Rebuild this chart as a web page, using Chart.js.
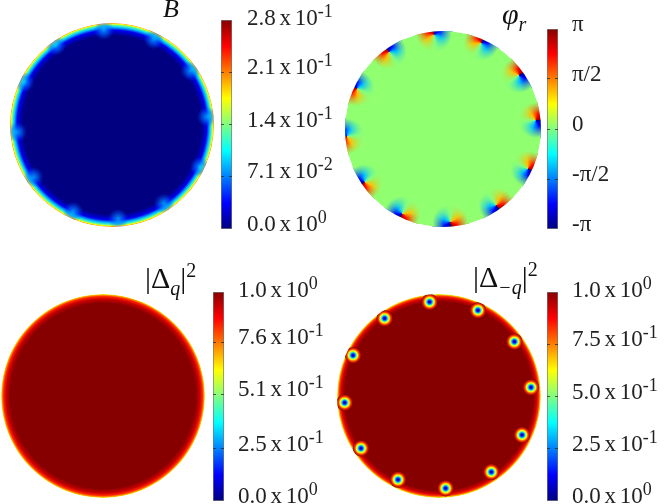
<!DOCTYPE html>
<html>
<head>
<meta charset="utf-8">
<script src="https://cdn.jsdelivr.net/npm/chart.js@4"></script>
<style>
  html, body { margin: 0; background: #fff; }
  #page { position: relative; width: 664px; height: 504px; overflow: hidden; }
  canvas { position: absolute; }
  .title { position: absolute; z-index: 2; font: italic 30px "Liberation Serif"; color: #111; white-space: nowrap; line-height: 30px; }
  .title span { font-style: normal; }
  .title sub { font-size: 20px; line-height: 0; }
  .title sup { font-size: 20px; font-style: normal; line-height: 0; }
</style>
</head>
<body>
<div id="page">
  <div class="title" style="left:163px;top:-6px;font-size:26px">B</div>
  <div class="title" style="left:502px;top:-1px">φ<sub>r</sub></div>
  <div class="title" style="left:145px;top:263px"><span>|Δ</span><sub>q</sub><span>|</span><sup>2</sup></div>
  <div class="title" style="left:473px;top:262px"><span>|Δ</span><sub>−q</sub><span>|</span><sup>2</sup></div>
</div>
<script>
// tick labels, "^" marks the exponent
const bTicks = ["0.0 x 10^0", "7.1 x 10^-2", "1.4 x 10^-1", "2.1 x 10^-1", "2.8 x 10^-1"];
const bTickValues = [0, 0.071, 0.14, 0.21, 0.28];
const phiTicks = ["-π", "-π/2", "0", "π/2", "π"];
const phiTickValues = [-3.14159, -1.5708, 0, 1.5708, 3.14159];
const dqTicks = ["0.0 x 10^0", "2.5 x 10^-1", "5.1 x 10^-1", "7.6 x 10^-1", "1.0 x 10^0"];
const dqTickValues = [0, 0.25, 0.51, 0.76, 1];
const dmqTicks = ["0.0 x 10^0", "2.5 x 10^-1", "5.0 x 10^-1", "7.5 x 10^-1", "1.0 x 10^0"];
const dmqTickValues = [0, 0.25, 0.5, 0.75, 1];

// vortex positions in units of the disk radius
const bSpotX = [-0.08, 0.41, 0.77, 0.93, 0.86, 0.51, 0.06, -0.38, -0.77, -0.93, -0.86, -0.55];
const bSpotY = [0.93, 0.84, 0.53, 0.08, -0.41, -0.77, -0.92, -0.85, -0.51, -0.07, 0.42, 0.78];
const phiSpotX = [-0.092, 0.391, 0.776, 0.945, 0.867, 0.544, 0.075, -0.415, -0.799, -0.980, -0.878, -0.551];
const phiSpotY = [0.963, 0.878, 0.548, 0.089, -0.405, -0.779, -0.949, -0.864, -0.541, -0.075, 0.412, 0.786];
const dmqSpotX = [-0.092, 0.382, 0.739, 0.902, 0.814, 0.513, 0.065, -0.402, -0.765, -0.925, -0.843, -0.533];
const dmqSpotY = [0.922, 0.840, 0.533, 0.085, -0.382, -0.745, -0.905, -0.820, -0.513, -0.065, 0.399, 0.761];

// radial profiles read along the disk: radius and field value
const bRimR = [0, 0.875, 0.93, 0.96, 0.98, 0.99, 1];
const bRimV = [0, 0, 0.03, 0.09, 0.135, 0.175, 0.215];
const bSpotR = [0, 0.05, 0.1];
const dqRimR = [0, 0.91, 0.95, 0.975, 0.99, 1];
const dqRimV = [1, 1, 0.93, 0.84, 0.72, 0.6];
const dmqRimR = [0, 0.925, 0.96, 0.98, 0.99, 1];
const dmqRimV = [1, 1, 0.92, 0.82, 0.7, 0.58];
const dmqCoreR = [0, 0.012, 0.025, 0.035, 0.045, 0.06, 0.08];
const dmqCoreV = [0.03, 0.1, 0.3, 0.5, 0.63, 0.82, 1];

// phase around a vortex, clockwise from the rim side
const phiWind = [-3.14, -2.4, -1.18, 0, 1.18, 2.4, 3.14];
const phiFadeR = [0, 0.07, 0.2];
const phiFlat = 0.1;

const jetStops = [[0, 0, 0, 128], [0.125, 0, 0, 255], [0.375, 0, 255, 255], [0.5, 128, 255, 128], [0.625, 255, 255, 0], [0.875, 255, 0, 0], [1, 135, 0, 0]];

function jet(t, alpha = 1) {
    t = Math.min(1, Math.max(0, t));
    for (let i = 1; i < jetStops.length; i++) {
        const a = jetStops[i - 1], b = jetStops[i];
        if (t <= b[0]) {
            const f = (t - a[0]) / (b[0] - a[0]);
            return `rgba(${[1, 2, 3].map(k => Math.round(a[k] + (b[k] - a[k]) * f)).join(",")},${alpha})`;
        }
    }
    return `rgba(135,0,0,${alpha})`;
}

function points(xs, ys) {
    return xs.map((x, i) => ({ x, y: ys[i] }));
}

function radiusOf(ctx, r) {
    const s = ctx.chart.scales.x;
    const px = Math.abs(s.getPixelForValue(r) - s.getPixelForValue(0));
    return Number.isFinite(px) ? px : 0;
}

// pixel place of a point, null while the scales are not ready
function placeOf(ctx) {
    if (!ctx.raw || typeof ctx.raw.x !== "number") return null;
    const cx = ctx.chart.scales.x.getPixelForValue(ctx.raw.x);
    const cy = ctx.chart.scales.y.getPixelForValue(ctx.raw.y);
    return Number.isFinite(cx) && Number.isFinite(cy) ? { cx, cy } : null;
}

// a point filled with a radial gradient following a profile
function profileSet(pts, radii, values, min, max) {
    const reach = radii[radii.length - 1];
    return {
        data: pts,
        pointRadius: ctx => radiusOf(ctx, reach),
        pointBorderWidth: 0,
        backgroundColor: ctx => {
            const at = placeOf(ctx);
            if (!at) return "transparent";
            const g = ctx.chart.ctx.createRadialGradient(at.cx, at.cy, 0, at.cx, at.cy, radiusOf(ctx, reach));
            radii.forEach((r, i) => g.addColorStop(r / reach, jet((values[i] - min) / (max - min))));
            return g;
        }
    };
}

// soft light patch over the rim
function softSet(pts, radii) {
    const reach = radii[radii.length - 1];
    return {
        data: pts,
        pointRadius: ctx => radiusOf(ctx, reach),
        pointBorderWidth: 0,
        backgroundColor: ctx => {
            const at = placeOf(ctx);
            if (!at) return "transparent";
            const g = ctx.chart.ctx.createRadialGradient(at.cx, at.cy, 0, at.cx, at.cy, radiusOf(ctx, reach));
            g.addColorStop(0, "rgba(0,210,255,0.7)");
            g.addColorStop(radii[1] / reach, "rgba(0,110,255,0.55)");
            g.addColorStop(1, "rgba(0,60,255,0)");
            return g;
        }
    };
}

// the phase winds from -pi to pi around each vortex, the cut points at the rim
function windingSet(pts) {
    const reach = phiFadeR[phiFadeR.length - 1];
    return {
        data: pts,
        pointRadius: ctx => radiusOf(ctx, reach) * 0.96,
        pointBorderWidth: 0,
        backgroundColor: ctx => {
            const at = placeOf(ctx);
            if (!at) return "transparent";
            const g = ctx.chart.ctx.createConicGradient(Math.atan2(-ctx.raw.y, ctx.raw.x), at.cx, at.cy);
            phiWind.forEach((v, i) => g.addColorStop(i / (phiWind.length - 1), jet((v + 3.14159) / 6.28318)));
            return g;
        }
    };
}

function fadeSet(pts, t) {
    const reach = phiFadeR[phiFadeR.length - 1];
    return {
        data: pts,
        pointRadius: ctx => radiusOf(ctx, reach),
        pointBorderWidth: 0,
        backgroundColor: ctx => {
            const at = placeOf(ctx);
            if (!at) return "transparent";
            const g = ctx.chart.ctx.createRadialGradient(at.cx, at.cy, 0, at.cx, at.cy, radiusOf(ctx, reach));
            g.addColorStop(0, jet(t, 0));
            g.addColorStop(phiFadeR[1] / reach, jet(t, 0));
            g.addColorStop(0.9, jet(t, 1));
            g.addColorStop(1, jet(t, 1));
            return g;
        }
    };
}

// keeps everything inside the unit circle
const clipDisk = {
    id: "clipDisk",
    beforeDatasetsDraw(chart) {
        const { x, y } = chart.scales;
        const c = chart.ctx;
        c.save();
        c.beginPath();
        c.arc(x.getPixelForValue(0), y.getPixelForValue(0), Math.abs(x.getPixelForValue(1) - x.getPixelForValue(0)), 0, Math.PI * 2);
        c.clip();
    },
    afterDatasetsDraw(chart) {
        chart.ctx.restore();
    }
};

// draws the tick labels with a raised exponent
const tickText = {
    id: "tickText",
    afterDraw(chart) {
        const scale = chart.scales.y;
        const c = chart.ctx;
        const opts = chart.options.plugins.tickText;
        c.save();
        c.fillStyle = "#222";
        c.textBaseline = "alphabetic";
        scale.ticks.forEach((tick, i) => {
            const [base, power] = String(tick.label).split("^");
            const last = i === scale.ticks.length - 1;
            const px = scale.getPixelForTick(i) + (last ? opts.topDrop : 2);
            const left = chart.chartArea.right + opts.gap;
            c.font = '23px "Liberation Serif"';
            c.wordSpacing = "-2px";
            c.fillText(base, left, px);
            if (power) {
                const w = c.measureText(base).width;
                c.font = '18px "Liberation Serif"';
                c.fillText(power, left + w, px - 8);
            }
        });
        c.restore();
    }
};

function addCanvas(left, top, width, height) {
    const cv = document.createElement("canvas");
    cv.style.left = left + "px";
    cv.style.top = top + "px";
    cv.style.width = width + "px";
    cv.style.height = height + "px";
    cv.width = width;
    cv.height = height;
    document.getElementById("page").appendChild(cv);
    return cv;
}

function drawDisk(box, datasets) {
    new Chart(addCanvas(box[0] - box[2], box[1] - box[2], box[2] * 2, box[2] * 2), {
        type: "scatter",
        data: { datasets: datasets.map(d => ({ clip: false, ...d })) },
        plugins: [clipDisk],
        options: {
            responsive: false,
            animation: false,
            events: [],
            layout: { padding: 0 },
            plugins: { legend: { display: false }, tooltip: { enabled: false } },
            scales: {
                x: { type: "linear", min: -1, max: 1, display: false },
                y: { type: "linear", min: -1, max: 1, display: false }
            }
        }
    });
}

// box is left, top, bar width, bar height
function drawBar(box, tickValues, tickLabels, gap, topDrop) {
    const min = tickValues[0], max = tickValues[tickValues.length - 1];
    const pad = 20;
    const width = 664 - box[0];
    new Chart(addCanvas(box[0], box[1] - pad, width, box[3] + pad * 2), {
        type: "bar",
        data: {
            labels: [""],
            datasets: [{
                data: [[min, max]],
                barPercentage: 1,
                categoryPercentage: 1,
                borderWidth: 1,
                borderSkipped: false,
                borderColor: "rgba(60,60,60,0.7)",
                backgroundColor: ctx => {
                    const area = ctx.chart.chartArea;
                    if (!area || !Number.isFinite(area.bottom)) return "transparent";
                    const g = ctx.chart.ctx.createLinearGradient(0, area.bottom, 0, area.top);
                    jetStops.forEach(s => g.addColorStop(s[0], `rgb(${s[1]},${s[2]},${s[3]})`));
                    return g;
                }
            }]
        },
        plugins: [tickText],
        options: {
            responsive: false,
            animation: false,
            events: [],
            layout: { padding: { top: pad, bottom: pad, left: 0, right: 0 } },
            plugins: { legend: { display: false }, tooltip: { enabled: false }, tickText: { gap, topDrop } },
            scales: {
                x: { display: false },
                y: {
                    position: "right",
                    min,
                    max,
                    afterFit(scale) { scale.width = width - box[2]; },
                    afterBuildTicks(scale) { scale.ticks = tickValues.map(value => ({ value })); },
                    ticks: {
                        display: false,
                        callback: (v, i) => tickLabels[i]
                    },
                    border: { display: false, dash: [3, 5] },
                    grid: {
                        z: 1,
                        color: "rgba(40,40,40,0.75)",
                        drawTicks: false,
                        lineWidth: ctx => (ctx.index === 0 || ctx.index === tickValues.length - 1) ? 0 : 1
                    }
                }
            }
        }
    });
}

const bSpots = points(bSpotX, bSpotY);
const phiSpots = points(phiSpotX, phiSpotY);
const dmqSpots = points(dmqSpotX, dmqSpotY);
const center = [{ x: 0, y: 0 }];

// first in the list is painted first
const order = sets => sets.map((d, i) => ({ ...d, order: sets.length - i }));

drawDisk([112, 124.7, 102], order([
    profileSet(center, bRimR, bRimV, 0, 0.28),
    softSet(bSpots, bSpotR)
]));
drawBar([221, 20, 11, 209], bTickValues, bTicks, 15, 5);

drawDisk([443.3, 128.7, 98], order([
    profileSet(center, [0, 1], [phiFlat, phiFlat], -3.14159, 3.14159),
    windingSet(phiSpots),
    fadeSet(phiSpots, (phiFlat + 3.14159) / 6.28318)
]));
drawBar([547, 29, 11, 200], phiTickValues, phiTicks, 14, 2);

drawDisk([103, 396, 102], order([
    profileSet(center, dqRimR, dqRimV, 0, 1)
]));
drawBar([213, 292, 11, 209], dqTickValues, dqTicks, 14, 5);

drawDisk([438.7, 395.7, 102], order([
    profileSet(center, dmqRimR, dmqRimV, 0, 1),
    profileSet(dmqSpots, dmqCoreR, dmqCoreV, 0, 1)
]));
drawBar([547, 292, 11, 209], dmqTickValues, dmqTicks, 14, 5);
</script>
</body>
</html>
